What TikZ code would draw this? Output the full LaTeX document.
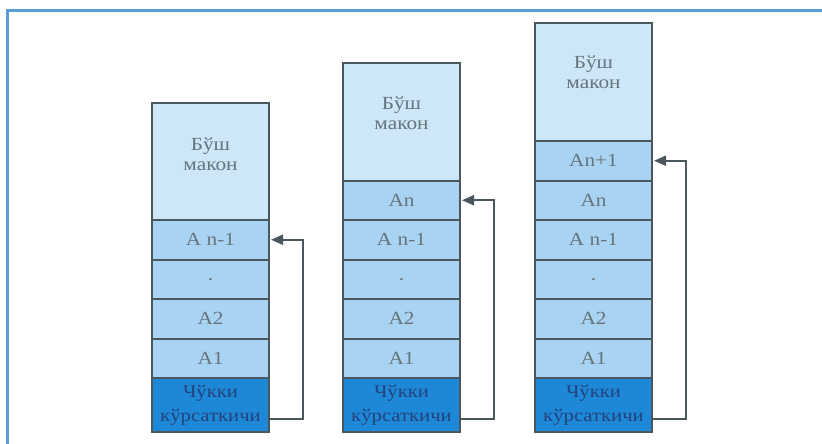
\documentclass[tikz,border=0pt]{standalone}
\usepackage{fontspec}
\setmainfont{Liberation Serif}
\newfontfamily\wideserif[FakeStretch=1.15]{Liberation Serif}
\usetikzlibrary{arrows.meta}
\definecolor{frameblue}{HTML}{5B9BD8}
\definecolor{emptyfill}{HTML}{CDE6F8}
\definecolor{cellfill}{HTML}{A9D3F3}
\definecolor{topfill}{HTML}{1E88D8}
\definecolor{edgegray}{HTML}{4A585E}
\definecolor{txtgray}{HTML}{66747C}
\definecolor{toptxt}{HTML}{23427A}
\tikzset{
  box/.style={draw=edgegray, line width=2pt, anchor=north west, inner sep=0pt, outer sep=0pt,
    minimum width=117pt, text=txtgray, align=center, font=\wideserif\fontsize{18.5}{20}\selectfont},
  emptybox/.style={box, fill=emptyfill},
  cellbox/.style={box, fill=cellfill, minimum height=39.5pt},
  topbox/.style={box, fill=topfill, minimum height=54pt, text=toptxt, font=\wideserif\fontsize{18}{24}\selectfont},
  ptr/.style={draw=edgegray, line width=2pt, -{Triangle[length=12pt,width=10pt]}, shorten >=2pt},
  lbl/.style={text=txtgray, align=center, font=\wideserif\fontsize{18.5}{20}\selectfont}
}
\begin{document}
\begin{tikzpicture}[x=1pt,y=-1pt]
\useasboundingbox (0,0) rectangle (822,444);
\fill[white] (0,0) rectangle (822,444);
\draw[frameblue, line width=3pt] (7.5,444) -- (7.5,11) -- (822,11);

% left stack
\node[emptybox, minimum height=117pt] (L0) at (152,103) {};
\node[lbl] (L0t) at (210.5,154) {Бўш\\макон};
\node[cellbox] (L1) at (152,220) {A n-1};
\node[cellbox] (L2) at (152,259.5) {.};
\node[cellbox] (L3) at (152,299) {A2};
\node[cellbox] (L4) at (152,338.5) {A1};
\node[topbox] (L5) at (152,378) {Чўкки\\кўрсаткичи};
\draw[ptr] ([yshift=-14pt]L5.east) -- ++(34,0) |- (L1.east);

% middle stack
\node[emptybox, minimum height=117.5pt] (M0) at (343,63) {};
\node[lbl] (M0t) at (401.5,113) {Бўш\\макон};
\node[cellbox] (M1) at (343,180.5) {An};
\node[cellbox] (M2) at (343,220) {A n-1};
\node[cellbox] (M3) at (343,259.5) {.};
\node[cellbox] (M4) at (343,299) {A2};
\node[cellbox] (M5) at (343,338.5) {A1};
\node[topbox] (M6) at (343,378) {Чўкки\\кўрсаткичи};
\draw[ptr] ([yshift=-14pt]M6.east) -- ++(34,0) |- (M1.east);

% right stack
\node[emptybox, minimum height=118pt] (R0) at (535,23) {};
\node[lbl] (R0t) at (593.5,72) {Бўш\\макон};
\node[cellbox] (R1) at (535,141) {An+1};
\node[cellbox] (R2) at (535,180.5) {An};
\node[cellbox] (R3) at (535,220) {A n-1};
\node[cellbox] (R4) at (535,259.5) {.};
\node[cellbox] (R5) at (535,299) {A2};
\node[cellbox] (R6) at (535,338.5) {A1};
\node[topbox] (R7) at (535,378) {Чўкки\\кўрсаткичи};
\draw[ptr] ([yshift=-14pt]R7.east) -- ++(34,0) |- (R1.east);
\end{tikzpicture}
\end{document}
